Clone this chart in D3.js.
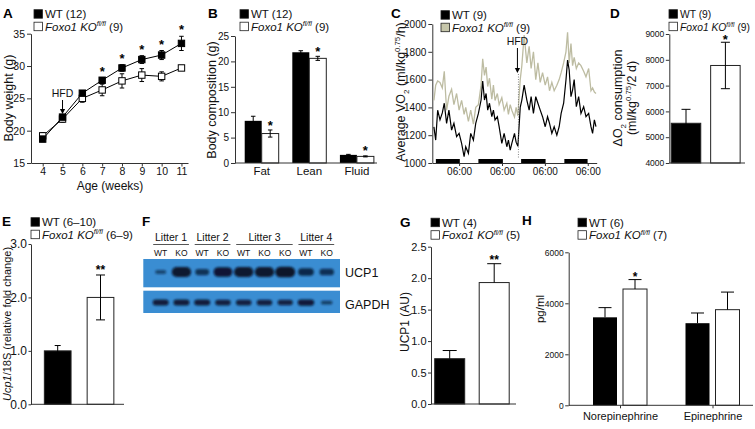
<!DOCTYPE html>
<html><head><meta charset="utf-8">
<script src="https://cdn.jsdelivr.net/npm/d3@7"></script>
<style>
body{margin:0;background:#fff;}
svg{display:block;}
</style></head><body>
<svg id="fig" width="755" height="429"></svg>
<script>
// ================= DATA =================
// A: body weight
const weeks = [4,5,6,7,8,9,10,11];
const bwWT = [18.7,22.1,25.8,27.8,29.7,31.0,31.7,33.5];
const bwWTerr = [0.4,0.4,0.3,0.4,0.5,0.6,0.7,1.1];
const bwKO = [19.2,21.8,25.0,26.3,27.7,28.6,28.4,29.7];
const bwKOerr = [0.5,0.5,0.6,0.9,1.1,1.0,0.7,0.4];
const bwSig = [0,0,0,1,1,1,1,1];
const bwTicks = [15,20,25,30,35];

// B: body composition
const compCats = ["Fat","Lean","Fluid"];
const compWT = [8.3,21.8,1.6];
const compWTerr = [0.9,0.3,0.1];
const compKO = [5.8,20.6,1.3];
const compKOerr = [0.7,0.4,0.1];
const compSig = [1,1,1];
const compTicks = [0,5,10,15,20,25];

// C: VO2 time course (hours from start)
const vo2Hours = [0.9,1.9,3.0,4.3,5.6,6.7,8.0,9.3,10.8,12.1,13.6,15.0,16.4,17.8,18.7,20.2,21.5,23.0,24.3,25.8,
  27.3,28.2,29.2,30.1,31.0,32.0,33.3,34.2,35.1,36.4,37.4,38.9,40.2,41.7,42.6,43.6,44.5,46.0,46.9,47.9,
  49.2,50.1,51.4,52.9,54.2,55.3,56.6,57.9,59.1,60.4,61.7,63.2,64.5,65.6,66.9,68.2,69.7,71.0,72.1,73.5,
  74.8,75.7,76.6,77.6,78.5,79.4,80.6,81.9,83.2,84.7,86.0,87.5,88.8,89.7,90.7,91.6];
const vo2WT = [1260,1165,1380,1310,1360,1430,1285,1380,1237,1285,1190,1213,1141,1045,1117,1070,1213,1165,1285,1357,
  1453,1590,1453,1500,1380,1430,1333,1380,1310,1333,1261,1141,1213,1117,1165,1093,1141,1213,1150,1120,
  1400,1453,1560,1453,1380,1477,1357,1477,1430,1380,1333,1261,1333,1285,1213,1261,1201,1261,1357,1430,
  1597,1740,1669,1477,1525,1600,1405,1477,1357,1405,1333,1357,1261,1213,1310,1261];
const vo2KO = [1450,1560,1590,1580,1540,1660,1380,1480,1530,1420,1500,1380,1450,1350,1400,1300,1380,1280,1400,1420,
  1560,1750,1630,1690,1550,1610,1460,1560,1450,1500,1420,1470,1380,1430,1350,1420,1380,1330,1400,1340,
  1600,1700,1920,1720,1840,1680,1800,1600,1720,1580,1650,1560,1620,1520,1580,1520,1560,1600,1650,1720,
  1800,1940,1720,1860,1700,1760,1680,1720,1700,1660,1620,1680,1520,1540,1510,1500];
const darkPhases = [[2,15.4],[25.8,39.5],[49.7,63.4],[73.9,86.9]];
const hfdHour = 48.2;
const clockTicks = [15,39,63,87];
const clockLabels = ["06:00","06:00","06:00","06:00"];
const vo2Ticks = [1000,1200,1400,1600,1800,2000];

// D: delta O2 consumption
const dO2Groups = ["WT","KO"];
const dO2Mean = [5540,7780];
const dO2Err = [540,900];
const dO2Sig = [0,1];
const dO2Ticks = [4000,5000,6000,7000,8000,9000];

// E: Ucp1 mRNA
const ucpGroups = ["WT","KO"];
const ucpMean = [1.0,2.0];
const ucpErr = [0.1,0.42];
const ucpSig = ["","**"];
const ucpTicks = [0,1,2,3];

// F: western blot
const blotLitters = ["Litter 1","Litter 2","Litter 3","Litter 4"];
const blotLitterLanes = [[0,1],[2,3],[4,6],[7,8]];
const blotLanes = ["WT","KO","WT","KO","WT","KO","KO","WT","KO"];
const ucp1Band = [0.25,0.95,0.5,0.9,0.95,0.95,1.0,0.65,0.55];
const gapdhBand = [0.8,0.8,0.8,0.75,0.75,0.75,0.72,0.85,0.35];

// G: UCP1 protein
const protGroups = ["WT","KO"];
const protMean = [0.72,1.93];
const protErr = [0.13,0.3];
const protSig = ["","**"];
const protTicks = [0,0.5,1.0,1.5,2.0,2.5];

// H: catecholamines
const catCats = ["Norepinephrine","Epinephrine"];
const catWT = [3450,3220];
const catWTerr = [380,400];
const catKO = [4560,3750];
const catKOerr = [370,690];
const catSig = [1,0];
const catTicks = [0,2000,4000,6000];

// ================= HELPERS =================
const FONT = '"Liberation Sans", Arial, Helvetica, sans-serif';
const svg = d3.select("#fig").attr("font-family", FONT);
const INK = "#111";
const KO_GRAY = "#bdbca2";

function rich(t, parts, fs){
  let cur = 0;
  parts.forEach(p=>{
    const s = t.append("tspan").text(p.t);
    let off = 0;
    if(p.sup){ off = -0.38*fs; s.attr("font-size", fs*0.62); }
    if(p.sub){ off = 0.28*fs; s.attr("font-size", fs*0.65); }
    if(off-cur !== 0) s.attr("dy", off-cur);
    cur = off;
    if(p.i) s.attr("font-style","italic");
  });
}
const koParts = n => [{t:"Foxo1 KO", i:1},{t:"fl/fl", i:1, sup:1},{t:" ("+n+")"}];

function legend(x, y, rows, fs){
  fs = fs || 11.5;
  rows.forEach((r,i)=>{
    const yy = y + i*12.5;
    svg.append("rect").attr("x",x).attr("y",yy-8.3).attr("width",8.5).attr("height",8.5)
      .attr("fill",r.fill).attr("stroke","#222").attr("stroke-width",0.8);
    const t = svg.append("text").attr("x",x+11).attr("y",yy).attr("font-size",fs).attr("fill",INK);
    rich(t, r.parts, fs);
  });
}
function letter(x, y, s){
  svg.append("text").attr("x",x).attr("y",y).attr("font-size",13.5).attr("font-weight","bold")
    .attr("fill","#000").text(s);
}
function ylabel(x, y, parts, fs){
  const t = svg.append("text").attr("transform",`translate(${x},${y}) rotate(-90)`)
    .attr("text-anchor","middle").attr("font-size",fs).attr("fill",INK);
  rich(t, parts, fs);
}
function axisStyle(g, fs){
  g.attr("font-family", FONT).attr("font-size", fs);
  g.selectAll("path,line").attr("stroke","#333").attr("stroke-width",1);
  g.selectAll("text").attr("fill",INK);
}
function hline(x1,x2,y){
  svg.append("line").attr("x1",x1).attr("x2",x2).attr("y1",y).attr("y2",y).attr("stroke","#333").attr("stroke-width",1);
}
function errBar(g, cx, yTop, yBot, capW, noBotCap){
  g.append("line").attr("x1",cx).attr("x2",cx).attr("y1",yTop).attr("y2",yBot).attr("stroke","#000").attr("stroke-width",1);
  g.append("line").attr("x1",cx-capW/2).attr("x2",cx+capW/2).attr("y1",yTop).attr("y2",yTop).attr("stroke","#000").attr("stroke-width",1);
  if(!noBotCap) g.append("line").attr("x1",cx-capW/2).attr("x2",cx+capW/2).attr("y1",yBot).attr("y2",yBot).attr("stroke","#000").attr("stroke-width",1);
}
function star(cx, cyCenter, s, fs){
  fs = fs || 13;
  svg.append("text").attr("x",cx).attr("y",cyCenter+0.58*fs).attr("text-anchor","middle")
    .attr("font-size",fs).attr("font-weight","bold").attr("fill","#000").text(s);
}
function arrowDown(x, y1, y2){
  svg.append("line").attr("x1",x).attr("x2",x).attr("y1",y1).attr("y2",y2-4).attr("stroke","#000").attr("stroke-width",1);
  svg.append("path").attr("d",`M${x-2.6},${y2-5}L${x+2.6},${y2-5}L${x},${y2}Z`).attr("fill","#000");
}
const fmtInt = d3.format("d");

// ================= PANEL A =================
{
  const x = d3.scaleLinear().domain([3.41,11.33]).range([31,188]);
  const y = d3.scaleLinear().domain([15,35]).range([163,33.7]);
  axisStyle(svg.append("g").attr("transform","translate(31,0)")
    .call(d3.axisLeft(y).tickValues(bwTicks).tickSize(4).tickSizeOuter(0).tickPadding(2)), 10.5);
  axisStyle(svg.append("g").attr("transform","translate(0,163)")
    .call(d3.axisBottom(x).tickValues(weeks).tickSize(3.5).tickSizeOuter(0).tickPadding(1.5)), 10.5);
  letter(3, 18, "A");
  legend(34, 18, [{fill:"#000", parts:[{t:"WT (12)"}]},{fill:"#fff", parts:koParts(9)}]);
  ylabel(13, 98, [{t:"Body weight (g)"}], 12.5);
  svg.append("text").attr("x",110).attr("y",189.5).attr("text-anchor","middle").attr("font-size",12).attr("fill",INK).text("Age (weeks)");

  const g = svg.append("g");
  const series = [
    {v:bwKO, e:bwKOerr, fill:"#fff"},
    {v:bwWT, e:bwWTerr, fill:"#000"}
  ];
  series.forEach(s=>{
    const pts = weeks.map((w,i)=>({w, v:s.v[i], e:s.e[i]}));
    g.append("path").datum(pts).attr("fill","none").attr("stroke","#000").attr("stroke-width",1)
      .attr("d", d3.line().x(d=>x(d.w)).y(d=>y(d.v)));
    pts.forEach(d=> errBar(g, x(d.w), y(d.v+d.e), y(d.v-d.e), 4.5));
  });
  series.forEach(s=>{
    weeks.forEach((w,i)=>{
      g.append("rect").attr("x",x(w)-3.2).attr("y",y(s.v[i])-3.2).attr("width",6.4).attr("height",6.4)
        .attr("fill",s.fill).attr("stroke","#000").attr("stroke-width",1);
    });
  });
  weeks.forEach((w,i)=>{ if(bwSig[i]) star(x(w), y(bwWT[i]+bwWTerr[i])-9.5, "*", 13); });
  svg.append("text").attr("x",x(5)).attr("y",97).attr("text-anchor","middle").attr("font-size",10.5).attr("fill",INK).text("HFD");
  arrowDown(x(5), 100, 114);
}

// ================= PANEL B =================
{
  const y = d3.scaleLinear().domain([0,25]).range([163,36]);
  const x = d3.scaleBand().domain(compCats).range([235,383.6]).paddingInner(0.286).paddingOuter(0.204);
  const xs = d3.scaleBand().domain(["WT","KO"]).range([0,x.bandwidth()]);
  axisStyle(svg.append("g").attr("transform","translate(235,0)")
    .call(d3.axisLeft(y).tickValues(compTicks).tickSize(4).tickSizeOuter(0).tickPadding(2)), 10);
  const xa = svg.append("g").attr("transform","translate(0,163)")
    .call(d3.axisBottom(x).tickSize(0).tickPadding(3.5));
  xa.select(".domain").remove();
  axisStyle(xa, 11.5);
  letter(208, 18, "B");
  legend(240, 18, [{fill:"#000", parts:[{t:"WT (12)"}]},{fill:"#fff", parts:koParts(9)}]);
  ylabel(216, 100, [{t:"Body composition (g)"}], 12.5);
  const g = svg.append("g");
  compCats.forEach((c,i)=>{
    const bw = xs.bandwidth();
    const xw = x(c)+xs("WT"), xk = x(c)+xs("KO");
    g.append("rect").attr("x",xw).attr("y",y(compWT[i])).attr("width",bw).attr("height",163-y(compWT[i])).attr("fill","#000");
    g.append("rect").attr("x",xk).attr("y",y(compKO[i])).attr("width",bw).attr("height",163-y(compKO[i])).attr("fill","#fff").attr("stroke","#222").attr("stroke-width",1);
    errBar(g, xw+bw/2, y(compWT[i]+compWTerr[i]), y(compWT[i]-compWTerr[i]), 4.5);
    errBar(g, xk+bw/2, y(compKO[i]+compKOerr[i]), y(compKO[i]-compKOerr[i]), 4.5);
    if(compSig[i]) star(xk+bw/2, y(compKO[i]+compKOerr[i])-8, "*", 13);
  });
  hline(235, 377, 163);
}

// ================= PANEL C =================
{
  const x = d3.scaleLinear().domain([0,92]).range([432.3,596.7]);
  const y = d3.scaleLinear().domain([1000,2000]).range([163,24]);
  axisStyle(svg.append("g").attr("transform","translate(432.3,0)")
    .call(d3.axisLeft(y).tickValues(vo2Ticks).tickFormat(fmtInt).tickSize(4).tickSizeOuter(0).tickPadding(2)), 10);
  axisStyle(svg.append("g").attr("transform","translate(0,163)")
    .call(d3.axisBottom(x).tickValues(clockTicks).tickFormat((d,i)=>clockLabels[i]).tickSize(3).tickSizeOuter(0).tickPadding(2)), 10);
  letter(391, 18, "C");
  legend(441, 19, [{fill:"#000", parts:[{t:"WT (9)"}]},{fill:"#c6c6aa", parts:koParts(9)}]);
  ylabel(405, 92, [{t:"Average VO"},{t:"2",sub:1},{t:" (ml/kg"},{t:"0.75",sup:1},{t:"/h)"}], 12.5);
  const g = svg.append("g");
  darkPhases.forEach(p=>{
    g.append("rect").attr("x",x(p[0])).attr("y",159).attr("width",x(p[1])-x(p[0])).attr("height",4).attr("fill","#000");
  });
  const line = d3.line().x(d=>x(d[0])).y(d=>y(d[1]));
  g.append("path").datum(vo2Hours.map((h,i)=>[h,vo2KO[i]])).attr("fill","none").attr("stroke",KO_GRAY).attr("stroke-width",1.3).attr("d",line);
  g.append("path").datum(vo2Hours.map((h,i)=>[h,vo2WT[i]])).attr("fill","none").attr("stroke","#000").attr("stroke-width",1.2).attr("d",line);
  g.append("line").attr("x1",x(hfdHour)).attr("x2",x(hfdHour)).attr("y1",74).attr("y2",159)
    .attr("stroke","#666").attr("stroke-width",0.8).attr("stroke-dasharray","1,1.5");
  svg.append("text").attr("x",x(hfdHour)-1).attr("y",45).attr("text-anchor","middle").attr("font-size",10.5).attr("fill",INK).text("HFD");
  arrowDown(x(hfdHour)-1, 48, 73);
}

// ================= PANEL D =================
{
  const x = d3.scalePoint().domain(dO2Groups).range([686,725.4]);
  const y = d3.scaleLinear().domain([4000,9000]).range([163,34]);
  const bw = 29.5;
  axisStyle(svg.append("g").attr("transform","translate(669.3,0)")
    .call(d3.axisLeft(y).tickValues(dO2Ticks).tickFormat(fmtInt).tickSize(3.5).tickSizeOuter(0).tickPadding(1.5)), 8.5);
  letter(610, 18, "D");
  legend(669, 18, [{fill:"#000", parts:[{t:"WT (9)"}]},{fill:"#fff", parts:koParts(9)}], 10.3);
  ylabel(622, 98, [{t:"\u0394O"},{t:"2",sub:1},{t:" consumption"}], 12.5);
  ylabel(636, 98, [{t:"(ml/kg"},{t:"0.75",sup:1},{t:"/2 d)"}], 12.5);
  const g = svg.append("g");
  dO2Groups.forEach((k,i)=>{
    const cx = x(k);
    const fill = i===0 ? "#000" : "#fff";
    g.append("rect").attr("x",cx-bw/2).attr("y",y(dO2Mean[i])).attr("width",bw).attr("height",163-y(dO2Mean[i]))
      .attr("fill",fill).attr("stroke","#222").attr("stroke-width",1);
    errBar(g, cx, y(dO2Mean[i]+dO2Err[i]), y(dO2Mean[i]-dO2Err[i]), 9);
    if(dO2Sig[i]) star(cx, y(dO2Mean[i]+dO2Err[i])-6, "*", 13);
  });
  hline(669.3, 745, 163);
}

// ================= PANEL E =================
{
  const x = d3.scalePoint().domain(ucpGroups).range([57.7,100.5]);
  const y = d3.scaleLinear().domain([0,3]).range([404.3,244]);
  const bw = 26.7;
  axisStyle(svg.append("g").attr("transform","translate(31,0)")
    .call(d3.axisLeft(y).tickValues(ucpTicks).tickSize(2.5).tickSizeOuter(0).tickPadding(1.5)), 12);
  letter(2, 226, "E");
  legend(31, 226, [{fill:"#000", parts:[{t:"WT (6\u201310)"}]},{fill:"#fff", parts:koParts("6\u20139")}]);
  ylabel(10.5, 324, [{t:"Ucp1", i:1},{t:"/18S (relative fold change)"}], 11);
  const g = svg.append("g");
  ucpGroups.forEach((k,i)=>{
    const cx = x(k);
    g.append("rect").attr("x",cx-bw/2).attr("y",y(ucpMean[i])).attr("width",bw).attr("height",404.3-y(ucpMean[i]))
      .attr("fill", i===0?"#000":"#fff").attr("stroke","#222").attr("stroke-width",1);
    errBar(g, cx, y(ucpMean[i]+ucpErr[i]), y(ucpMean[i]-ucpErr[i]), i===0?6:9);
    if(ucpSig[i]) star(cx, y(ucpMean[i]+ucpErr[i])-8, ucpSig[i], 12);
  });
  hline(31, 124, 404.3);
}

// ================= PANEL F =================
{
  letter(142, 226, "F");
  const lane = d3.scalePoint().domain(d3.range(blotLanes.length)).range([160.7,326.7]);
  const defs = svg.append("defs");
  defs.append("filter").attr("id","blur").attr("x","-50%").attr("y","-100%").attr("width","200%").attr("height","300%")
    .append("feGaussianBlur").attr("stdDeviation",0.8);
  blotLitters.forEach((l,i)=>{
    const [a,b] = blotLitterLanes[i];
    const x1 = lane(a)-7.5, x2 = lane(b)+7.5;
    svg.append("text").attr("x",(x1+x2)/2).attr("y",241).attr("text-anchor","middle").attr("font-size",10.5).attr("fill",INK).text(l);
    svg.append("line").attr("x1",x1).attr("x2",x2).attr("y1",244.5).attr("y2",244.5).attr("stroke","#555").attr("stroke-width",1);
  });
  blotLanes.forEach((s,i)=>{
    svg.append("text").attr("x",lane(i)).attr("y",255.5).attr("text-anchor","middle").attr("font-size",8.5).attr("fill",INK).text(s);
  });
  const strips = [{y0:259,y1:287.3,cy:272,data:ucp1Band,w:[8,12],h:[2,8.5],label:"UCP1",ly:276.5},
                  {y0:290.7,y1:313,cy:302.5,data:gapdhBand,w:[8,10],h:[2,5],label:"GAPDH",ly:308.5}];
  strips.forEach(st=>{
    svg.append("rect").attr("x",143.3).attr("y",st.y0).attr("width",340-143.3).attr("height",st.y1-st.y0).attr("fill","#3a8dd2");
    const bg = svg.append("g").attr("filter","url(#blur)");
    st.data.forEach((v,i)=>{
      const w = st.w[0]+st.w[1]*v, h = st.h[0]+st.h[1]*v;
      bg.append("rect").attr("x",lane(i)-w/2).attr("y",st.cy-h/2).attr("width",w).attr("height",h).attr("rx",h/2)
        .attr("fill","#08122a").attr("opacity",0.45+0.55*v);
    });
    svg.append("text").attr("x",345).attr("y",st.ly).attr("font-size",12.5).attr("fill",INK).text(st.label);
  });
}

// ================= PANEL G =================
{
  const x = d3.scalePoint().domain(protGroups).range([449.7,494.2]);
  const y = d3.scaleLinear().domain([0,2.5]).range([404,246.7]);
  const bw = 30;
  axisStyle(svg.append("g").attr("transform","translate(431,0)")
    .call(d3.axisLeft(y).tickValues(protTicks).tickFormat(d3.format(".1f")).tickSize(3).tickSizeOuter(0).tickPadding(1.5)), 11);
  letter(400, 226.5, "G");
  legend(431, 226.5, [{fill:"#000", parts:[{t:"WT (4)"}]},{fill:"#fff", parts:koParts(5)}]);
  ylabel(409, 322, [{t:"UCP1 (AU)"}], 12);
  const g = svg.append("g");
  protGroups.forEach((k,i)=>{
    const cx = x(k);
    g.append("rect").attr("x",cx-bw/2).attr("y",y(protMean[i])).attr("width",bw).attr("height",404-y(protMean[i]))
      .attr("fill", i===0?"#000":"#fff").attr("stroke","#222").attr("stroke-width",1);
    errBar(g, cx, y(protMean[i]+protErr[i]), y(protMean[i]), 14, true);
    if(protSig[i]) star(cx, y(protMean[i]+protErr[i])-7, protSig[i], 12);
  });
  hline(431, 516, 404);
}

// ================= PANEL H =================
{
  const x = d3.scalePoint().domain(catCats).range([620,712.5]);
  const y = d3.scaleLinear().domain([0,6000]).range([405.3,252.3]);
  const bw = 24, off = 15;
  axisStyle(svg.append("g").attr("transform","translate(568.7,0)")
    .call(d3.axisLeft(y).tickValues(catTicks).tickFormat(fmtInt).tickSize(3.5).tickSizeOuter(0).tickPadding(1.5)), 8.5);
  const xa = svg.append("g").attr("transform","translate(0,405.3)")
    .call(d3.axisBottom(x).tickSize(3).tickPadding(4));
  xa.select(".domain").remove();
  axisStyle(xa, 11);
  letter(522, 225, "H");
  legend(578, 226.5, [{fill:"#000", parts:[{t:"WT (6)"}]},{fill:"#fff", parts:koParts(7)}]);
  ylabel(544, 309, [{t:"pg/ml"}], 11.5);
  const g = svg.append("g");
  catCats.forEach((c,i)=>{
    const cw = x(c)-off, ck = x(c)+off;
    g.append("rect").attr("x",cw-bw/2).attr("y",y(catWT[i])).attr("width",bw).attr("height",405.3-y(catWT[i])).attr("fill","#000");
    g.append("rect").attr("x",ck-bw/2).attr("y",y(catKO[i])).attr("width",bw).attr("height",405.3-y(catKO[i])).attr("fill","#fff").attr("stroke","#222").attr("stroke-width",1);
    errBar(g, cw, y(catWT[i]+catWTerr[i]), y(catWT[i]), 13, true);
    errBar(g, ck, y(catKO[i]+catKOerr[i]), y(catKO[i]), 13, true);
    if(catSig[i]) star(ck, y(catKO[i]+catKOerr[i])-6, "*", 12);
  });
  hline(568.7, 753, 405.3);
}
</script>
</body></html>
